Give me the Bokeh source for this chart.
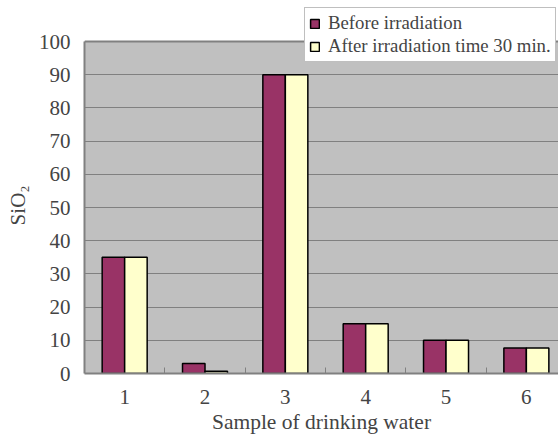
from bokeh.plotting import figure
from bokeh.models import (Range1d, FixedTicker, Legend, LegendItem,
                          BoxAnnotation, Span, ColumnDataSource)
from bokeh.embed import file_html
from bokeh.resources import INLINE

# SiO2 content per drinking-water sample
samples = [1, 2, 3, 4, 5, 6]
before_irradiation = [35, 3, 90, 15, 10, 7.7]
after_irradiation = [35, 0.7, 90, 15, 10, 7.7]
y_ticks = [0, 10, 20, 30, 40, 50, 60, 70, 80, 90, 100]
Y_MAX = 100

FONT = "Liberation Serif"
BAR_W = 0.28
NBSP = "\u00a0"

src = ColumnDataSource(dict(
    x_before=[s - BAR_W / 2 for s in samples],
    x_after=[s + BAR_W / 2 for s in samples],
    before=before_irradiation,
    after=after_irradiation,
))

# The frame reaches the top edge so the legend can sit above the plot area;
# only the part up to Y_MAX gets the grey plot-area fill.
p = figure(width=558, height=436, output_backend="svg", toolbar_location=None,
           x_range=Range1d(0.5, 6.4), y_range=Range1d(0, 112.36),
           min_border_left=84, min_border_right=0, min_border_top=0,
           min_border_bottom=63)
p.background_fill_color = "white"
p.border_fill_color = "white"
p.outline_line_color = None

plot_area = BoxAnnotation(top=Y_MAX, fill_color="#c0c0c0", fill_alpha=1,
                          line_color=None, level="underlay")
p.center = [plot_area] + list(p.center)

r_before = p.vbar(x="x_before", top="before", width=BAR_W, source=src,
                  fill_color="#993366", line_color="black", line_width=1.5)
r_after = p.vbar(x="x_after", top="after", width=BAR_W, source=src,
                 fill_color="#ffffcc", line_color="black", line_width=1.5)

p.add_layout(Span(location=Y_MAX, dimension="width", line_color="#808080",
                  line_width=2))

# x axis: labels at sample centres, small inward ticks between samples
xa = p.xaxis[0]
xa.ticker = FixedTicker(ticks=samples, minor_ticks=[s + 0.5 for s in samples[:-1]])
xa.major_tick_in = 0
xa.major_tick_out = 0
xa.minor_tick_in = 6
xa.minor_tick_out = 0
xa.minor_tick_line_color = "#808080"
xa.axis_line_color = "#808080"
xa.axis_line_width = 2
xa.major_label_text_font = FONT
xa.major_label_text_font_size = "21px"
xa.major_label_standoff = 16
xa.axis_label = "Sample of drinking water"
xa.axis_label_text_font = FONT
xa.axis_label_text_font_size = "21.5px"
xa.axis_label_text_font_style = "normal"
xa.axis_label_standoff = 3

ya = p.yaxis[0]
ya.ticker = FixedTicker(ticks=y_ticks)
ya.bounds = (0, Y_MAX)
ya.major_tick_in = 0
ya.major_tick_out = 0
ya.minor_tick_in = 0
ya.minor_tick_out = 0
ya.axis_line_color = "#808080"
ya.axis_line_width = 2
ya.major_label_text_font = FONT
ya.major_label_text_font_size = "21px"
ya.major_label_standoff = 14
ya.axis_label = "SiO\u2082" + NBSP * 7
ya.axis_label_text_font = FONT
ya.axis_label_text_font_size = "21px"
ya.axis_label_text_font_style = "normal"
ya.axis_label_standoff = 6

p.xgrid.grid_line_color = None
p.ygrid.grid_line_color = "#808080"
p.ygrid.grid_line_width = 1
p.ygrid.bounds = (0, Y_MAX)

legend = Legend(items=[LegendItem(label="Before irradiation", renderers=[r_before]),
                       LegendItem(label="After irradiation time 30 min.", renderers=[r_after])],
                location=(220, 311), orientation="vertical")
legend.label_text_font = FONT
legend.label_text_font_size = "18.8px"
legend.glyph_width = 11
legend.glyph_height = 11
legend.label_standoff = 8
legend.padding = 4
legend.spacing = 1
legend.margin = 0
legend.border_line_color = "#808080"
legend.border_line_width = 1
legend.background_fill_color = "white"
legend.background_fill_alpha = 1
p.add_layout(legend, "center")

with open("out.html", "w") as f:
    f.write(file_html(p, INLINE))
